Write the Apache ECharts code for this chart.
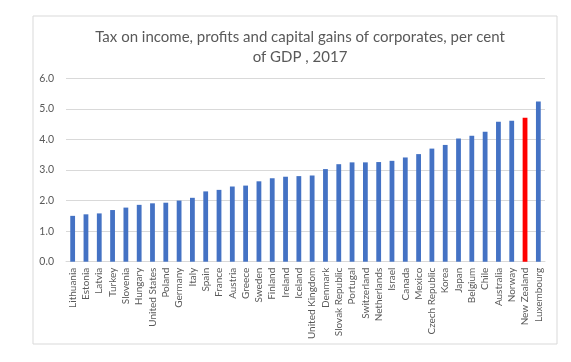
<!DOCTYPE html>
<html>
<head>
<meta charset="utf-8">
<script src="https://cdn.jsdelivr.net/npm/echarts@6/dist/echarts.min.js"></script>
<style>html,body{margin:0;padding:0;background:#fff;}#c{width:571px;height:362px;}</style>
</head>
<body>
<div id="c"></div>
<script>
var categories = ["Lithuania","Estonia","Latvia","Turkey","Slovenia","Hungary","United States","Poland","Germany","Italy","Spain","France","Austria","Greece","Sweden","Finland","Ireland","Iceland","United Kingdom","Denmark","Slovak Republic","Portugal","Switzerland","Netherlands","Israel","Canada","Mexico","Czech Republic","Korea","Japan","Belgium","Chile","Australia","Norway","New Zealand","Luxembourg"];
var values = [1.50,1.55,1.58,1.69,1.77,1.86,1.91,1.93,2.00,2.09,2.30,2.35,2.46,2.49,2.63,2.73,2.78,2.80,2.82,3.03,3.19,3.25,3.25,3.26,3.30,3.41,3.52,3.70,3.82,4.03,4.12,4.25,4.58,4.61,4.71,5.24];
var highlighted = ["New Zealand"];
var titleText = "Tax on income, profits and capital gains of corporates, per cent\nof GDP , 2017";

var chart = echarts.init(document.getElementById('c'), null, {renderer: 'canvas'});
var font = "Lato";
chart.setOption({
  animation: false,
  backgroundColor: '#ffffff',
  graphic: [{
    type: 'rect', shape: {x: 33, y: 16, width: 524, height: 328},
    style: {fill: 'none', stroke: '#d9d9d9', lineWidth: 1}, silent: true, z: -1
  }],
  title: {
    text: titleText,
    left: 295, top: 22, textAlign: 'center', padding: 5,
    textStyle: {fontFamily: font, fontSize: 15, fontWeight: 'normal', color: '#595959', lineHeight: 20}
  },
  grid: {left: 66, right: 26, top: 78.3, bottom: 100.3, containLabel: false},
  xAxis: {
    type: 'category', data: categories,
    axisLine: {lineStyle: {color: '#d9d9d9'}},
    axisTick: {show: false},
    axisLabel: {rotate: 90, interval: 0, margin: 6, fontFamily: font, fontSize: 10, color: '#595959'}
  },
  yAxis: {
    type: 'value', min: 0, max: 6, interval: 1,
    axisLine: {show: false}, axisTick: {show: false},
    splitLine: {lineStyle: {color: '#d9d9d9'}},
    axisLabel: {margin: 12, fontFamily: font, fontSize: 10.5, color: '#595959', formatter: function(v){return v.toFixed(1);}}
  },
  series: [{
    type: 'bar', barWidth: '36%',
    data: values.map(function(v, i){
      return {value: v, itemStyle: {color: highlighted.indexOf(categories[i]) >= 0 ? '#ff0000' : '#4472c4'}};
    })
  }]
});
</script>
</body>
</html>
